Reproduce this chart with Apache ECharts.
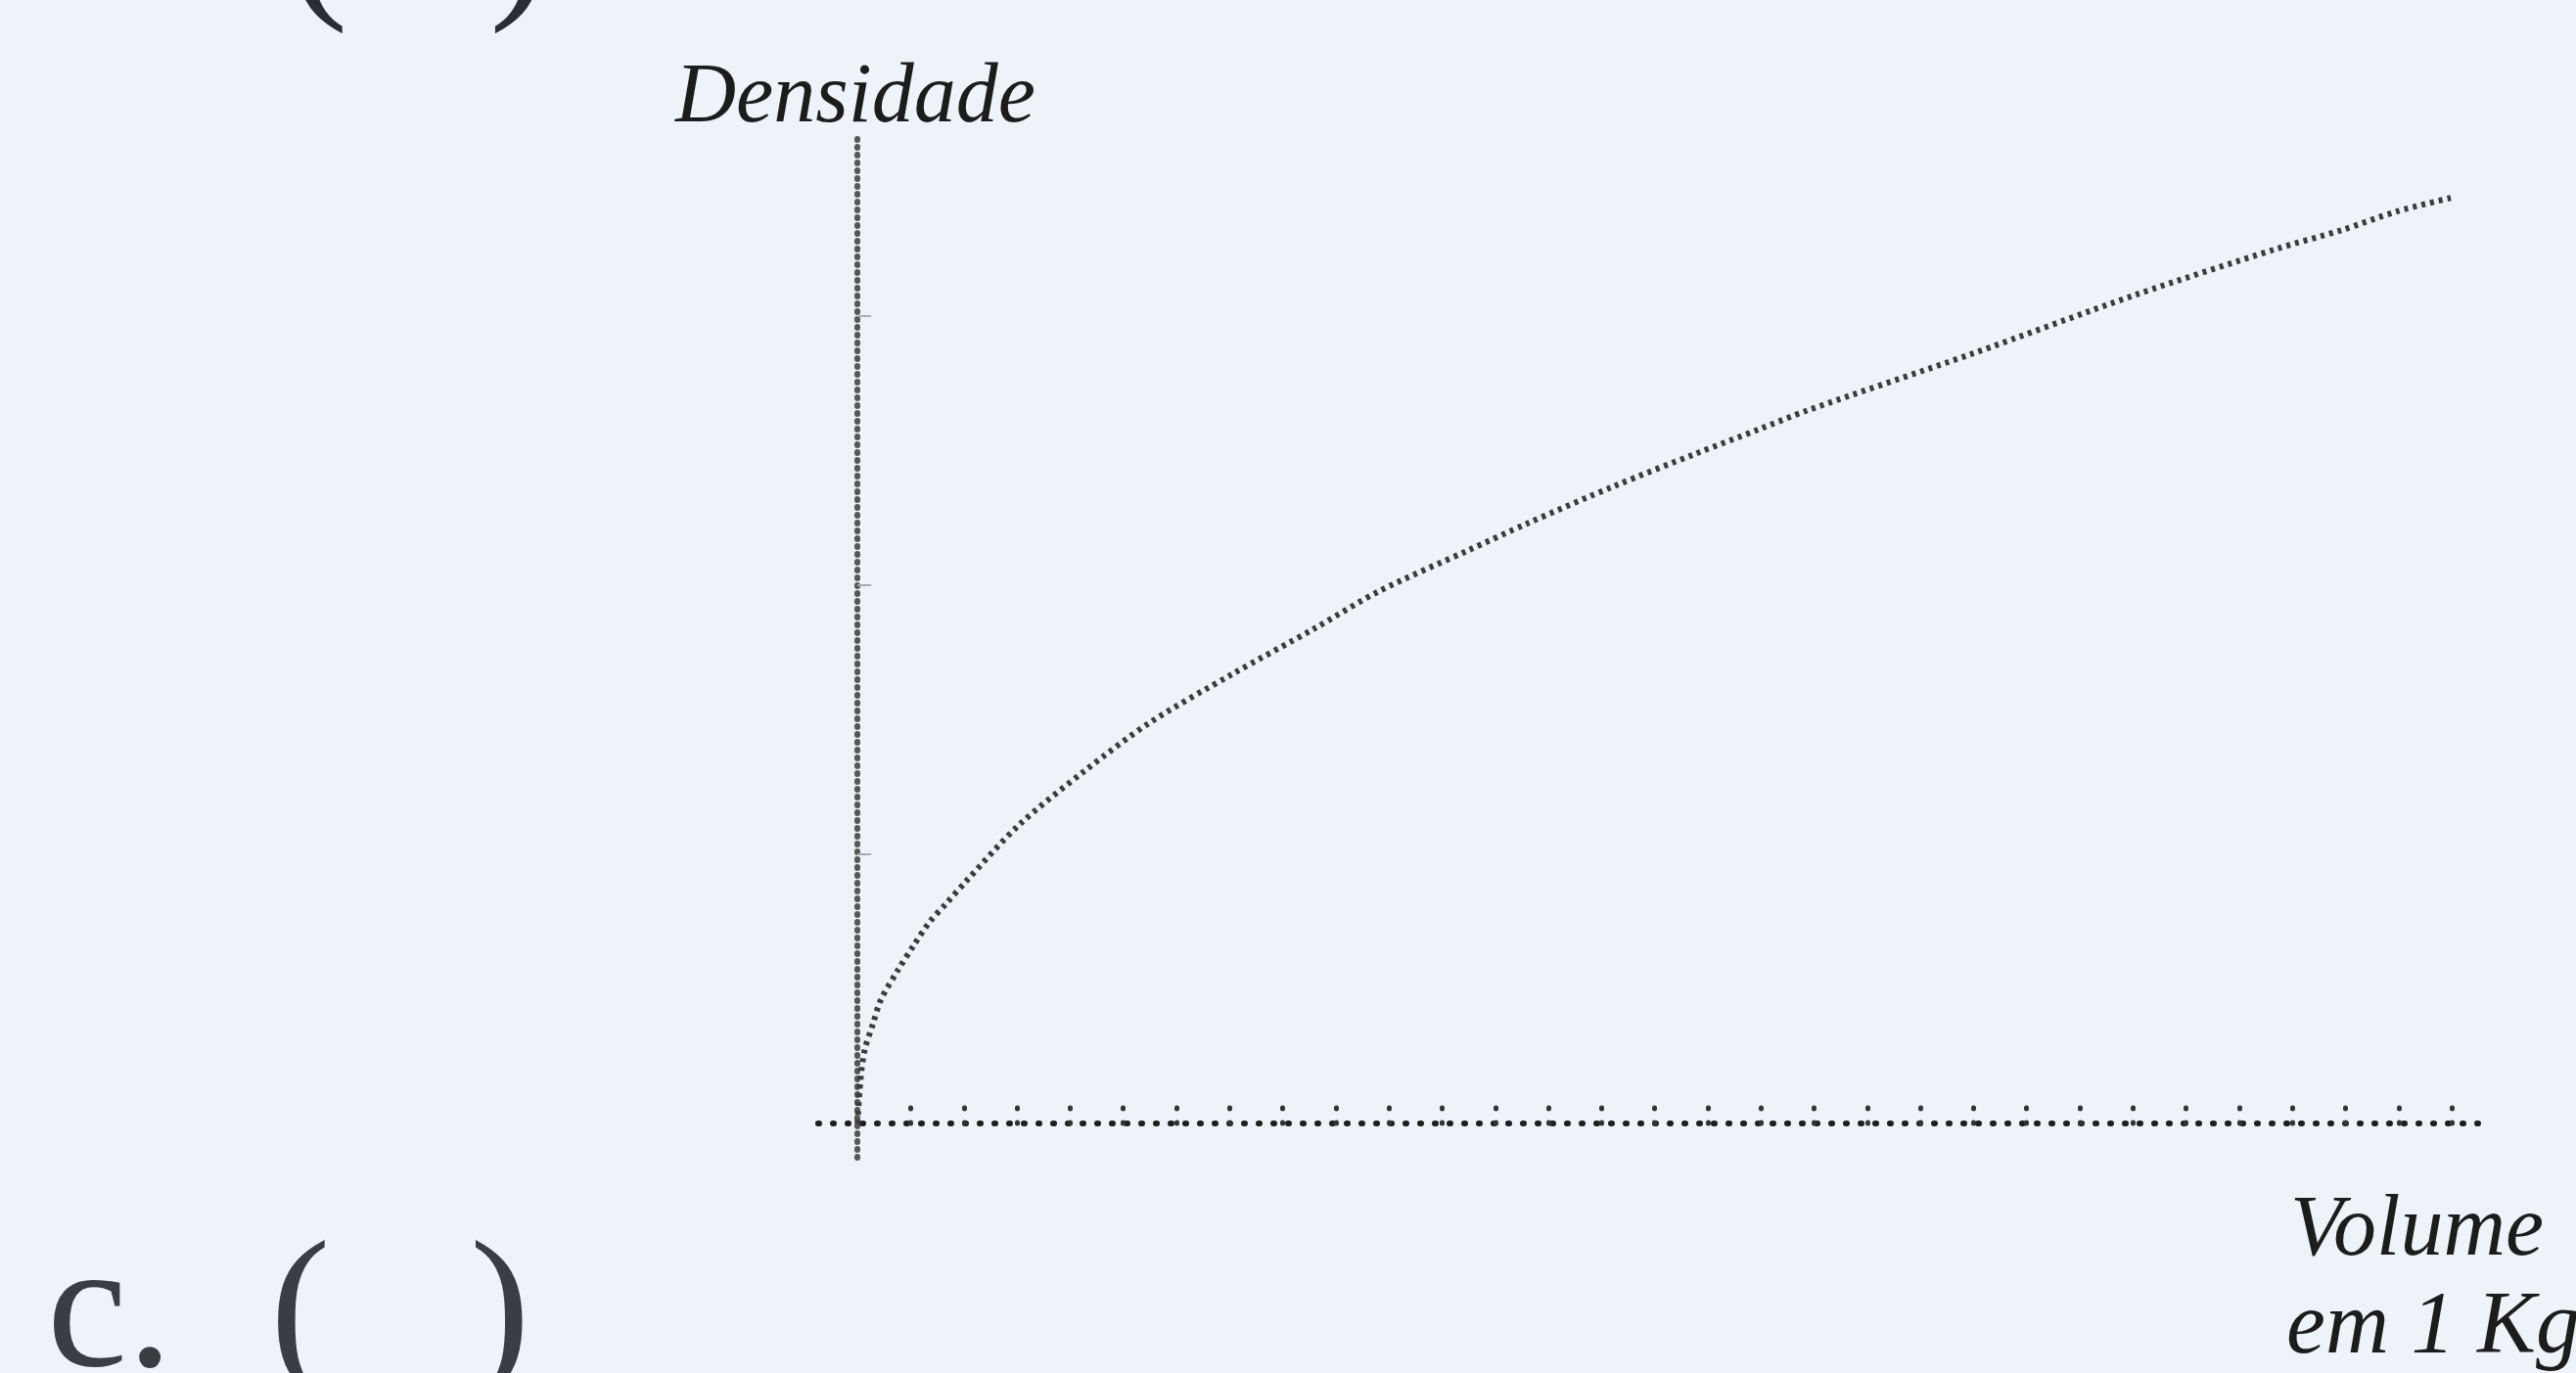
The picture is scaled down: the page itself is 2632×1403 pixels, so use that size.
<!DOCTYPE html>
<html>
<head>
<meta charset="utf-8">
<script src="https://cdn.jsdelivr.net/npm/echarts@6/dist/echarts.min.js"></script>
<style>
html,body{margin:0;padding:0;background:#eef3fa;}
#c{width:2632px;height:1403px;}
</style>
</head>
<body>
<div id="c"></div>
<script>
// Values (x: volume units, y: density units)
var volume  = [0, 0.05, 0.13, 0.29, 0.44, 0.76, 1.05, 1.36, 1.68, 2.04, 3.04, 4.27, 5.5, 7.05, 8.6, 9.83, 11.49, 12.6, 14.25, 15.78, 16.96, 17.87, 20.96, 24.05, 26.69, 27.92, 28.97, 29.98];
var density = [0, 0.15, 0.27, 0.37, 0.46, 0.57, 0.66, 0.75, 0.82, 0.90, 1.11, 1.31, 1.49, 1.67, 1.84, 1.98, 2.13, 2.23, 2.37, 2.49, 2.58, 2.65, 2.86, 3.08, 3.25, 3.32, 3.39, 3.44];
var xTicks = [1,2,3,4,5,6,7,8,9,10,11,12,13,14,15,16,17,18,19,20,21,22,23,24,25,26,27,28,29,30];
var yTicks = [1,2,3];
var yName = 'Densidade';
var xName1 = 'Volume';
var xName2 = 'em 1 Kg';
var optionLabel = 'c.';

var pts = volume.map(function (v, i) { return [v, density[i]]; });

var chart = echarts.init(document.getElementById('c'), null, {renderer: 'canvas'});
var serif = '"Liberation Serif", "Times New Roman", serif';
chart.setOption({
  backgroundColor: '#eef3fa',
  animation: false,
  grid: {left: 836, right: 97, top: 139, bottom: 220, containLabel: false, outerBoundsMode: 'none'},
  xAxis: {
    type: 'value', min: -0.74, max: 30.55,
    axisLine: {show: true, onZero: true, lineStyle: {color: '#1e1e1e', width: 6, type: [1, 14], cap: 'round'}},
    axisTick: {show: true, inside: true, length: 18, customValues: xTicks,
      lineStyle: {color: '#333', width: 5, type: [1, 14], cap: 'round'}},
    axisLabel: {show: false},
    splitLine: {show: false}
  },
  yAxis: {
    type: 'value', min: -0.127, max: 3.67,
    axisLine: {show: true, onZero: true, lineStyle: {color: '#555', width: 6, type: [1, 7], cap: 'round'}},
    axisTick: {show: true, inside: true, length: 14, customValues: yTicks,
      lineStyle: {color: '#aab', width: 2}},
    axisLabel: {show: false},
    splitLine: {show: false}
  },
  series: [{
    type: 'line',
    data: pts,
    smooth: 0.3,
    showSymbol: false,
    lineStyle: {color: '#3c3c3c', width: 6, type: [4, 5]}
  }],
  graphic: [
    {type: 'text', left: 690, top: 58, style: {text: yName, font: 'italic 86px ' + serif, fill: '#1c1c1c'}},
    {type: 'text', left: 2340, top: 1215, style: {text: xName1, font: 'italic 88px ' + serif, fill: '#1c1c1c'}},
    {type: 'text', left: 2336, top: 1313, style: {text: xName2, font: 'italic 90px ' + serif, fill: '#1c1c1c'}},
    {type: 'text', left: 48, top: 1254, style: {text: optionLabel, font: '185px ' + serif, fill: '#3a3d42'}},
    {type: 'text', left: 276, top: 1254, style: {text: '(', font: '185px ' + serif, fill: '#3a3d42'}},
    {type: 'text', left: 480, top: 1254, style: {text: ')', font: '185px ' + serif, fill: '#3a3d42'}},
    {type: 'text', left: 294, top: -146, style: {text: '(', font: '185px ' + serif, fill: '#2a2d32'}},
    {type: 'text', left: 500, top: -146, style: {text: ')', font: '185px ' + serif, fill: '#2a2d32'}}
  ]
});
</script>
</body>
</html>
